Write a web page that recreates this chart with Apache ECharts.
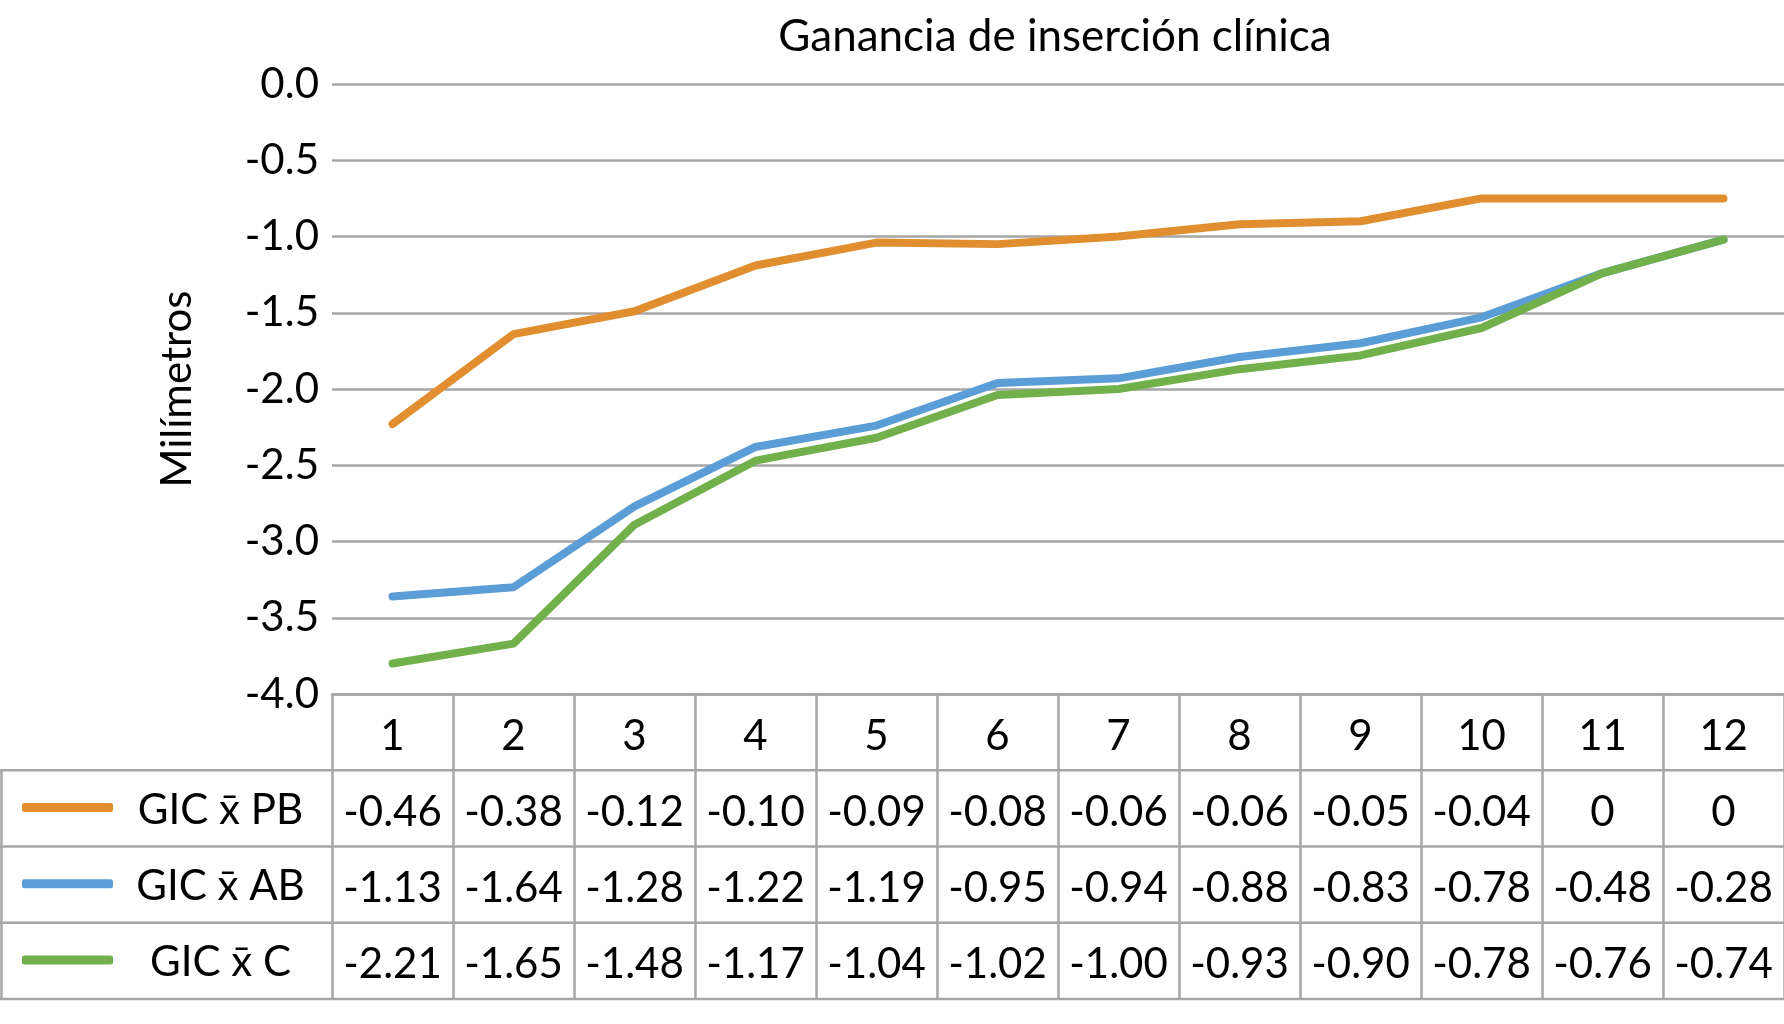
<!DOCTYPE html>
<html>
<head>
<meta charset="utf-8">
<script src="https://cdn.jsdelivr.net/npm/echarts@6/dist/echarts.min.js"></script>
<style>
html,body{margin:0;padding:0;background:#fff;}
#chart{width:1784px;height:1024px;}
</style>
</head>
<body>
<div id="chart"></div>
<script>
// ---- data ----
const categories = ['1','2','3','4','5','6','7','8','9','10','11','12'];
const seriesNames = ['GIC x\u0304 PB', 'GIC x\u0304 AB', 'GIC x\u0304 C'];
// values plotted by the lines
const linePB = [-2.23, -1.64, -1.49, -1.19, -1.04, -1.05, -1.00, -0.92, -0.90, -0.75, -0.75, -0.75];
const lineAB = [-3.36, -3.30, -2.77, -2.38, -2.24, -1.96, -1.93, -1.79, -1.70, -1.53, -1.24, -1.02];
const lineC  = [-3.80, -3.67, -2.89, -2.47, -2.32, -2.04, -2.00, -1.87, -1.78, -1.60, -1.24, -1.02];
// values shown in the data table
const tablePB = [-0.46, -0.38, -0.12, -0.10, -0.09, -0.08, -0.06, -0.06, -0.05, -0.04, 0, 0];
const tableAB = [-1.13, -1.64, -1.28, -1.22, -1.19, -0.95, -0.94, -0.88, -0.83, -0.78, -0.48, -0.28];
const tableC  = [-2.21, -1.65, -1.48, -1.17, -1.04, -1.02, -1.00, -0.93, -0.90, -0.78, -0.76, -0.74];
const yTicks = [0, -0.5, -1, -1.5, -2, -2.5, -3, -3.5, -4];

// ---- style / layout ----
const colors = ['#E08E2F', '#5B9DD6', '#72B04C'];
const FONT = 'Lato, "Open Sans", sans-serif';
const W = 1784, H = 1024;
const gridLeft = 332, gridTop = 84, gridBottomY = 694;
const rowH = (gridBottomY - gridTop) / 8;
const gray = '#A6A6A6';
const lineW = 2.5;

const chart = echarts.init(document.getElementById('chart'), null, {renderer: 'canvas'});
const fmtCell = v => (v === 0 ? '0' : v.toFixed(2));
const tableRows = [tablePB, tableAB, tableC];
const lineRows = [linePB, lineAB, lineC];

const xAxes = [{
  type: 'category', data: categories, gridIndex: 0, position: 'bottom', boundaryGap: true,
  axisLine: {show: true, onZero: false, lineStyle: {color: gray, width: lineW}},
  axisTick: {show: true, inside: false, length: rowH * 4, lineStyle: {color: gray, width: lineW}, interval: 0},
  axisLabel: {interval: 0, margin: rowH / 2 + 4, verticalAlign: 'middle', fontFamily: FONT, fontSize: 42, color: '#000'},
  splitLine: {show: false}
}];
tableRows.forEach((row, k) => {
  xAxes.push({
    type: 'category', data: categories, gridIndex: 0, position: 'bottom', offset: rowH * (k + 1), boundaryGap: true,
    axisLine: {show: false, onZero: false}, axisTick: {show: false}, splitLine: {show: false},
    axisLabel: {interval: 0, margin: rowH / 2 + 4, verticalAlign: 'middle', fontFamily: FONT, fontSize: 42, color: '#000',
      formatter: (v, i) => fmtCell(row[i])}
  });
});

const legends = seriesNames.map((n, k) => ({
  data: [n], orient: 'horizontal', left: 22, top: gridBottomY + rowH * (k + 1.5) - 25, padding: 0,
  itemWidth: 91, itemHeight: 9, icon: 'roundRect', selectedMode: false,
  formatter: name => '{t|' + name + '}',
  textStyle: {rich: {t: {width: 205, align: 'center', fontFamily: FONT, fontSize: 42, color: '#000', lineHeight: 50, padding: [6, 0, 0, 0]}}}
}));

const graphics = [];
for (let k = 1; k <= 4; k++) {
  const y = gridBottomY + rowH * k;
  graphics.push({type: 'line', silent: true, shape: {x1: 0, y1: y, x2: W, y2: y}, style: {stroke: gray, lineWidth: lineW}});
}
graphics.push({type: 'line', silent: true, shape: {x1: 1.5, y1: gridBottomY + rowH, x2: 1.5, y2: gridBottomY + rowH * 4}, style: {stroke: gray, lineWidth: lineW}});

const option = {
  backgroundColor: '#fff',
  animation: false,
  title: {
    text: 'Ganancia de inserción clínica', left: 1050, top: 10, textAlign: 'center',
    textStyle: {fontFamily: FONT, fontSize: 44, fontWeight: 'normal', color: '#000'}
  },
  legend: legends,
  grid: {left: gridLeft, top: gridTop, right: 0, height: gridBottomY - gridTop, containLabel: false},
  xAxis: xAxes,
  yAxis: {
    type: 'value', min: -4, max: 0, interval: 0.5,
    name: 'Milímetros', nameLocation: 'middle', nameRotate: 90, nameGap: 134,
    nameTextStyle: {fontFamily: FONT, fontSize: 42, color: '#000'},
    axisLine: {show: false}, axisTick: {show: false},
    axisLabel: {margin: 13, fontFamily: FONT, fontSize: 42, color: '#000', formatter: v => v.toFixed(1)},
    splitLine: {show: true, lineStyle: {color: gray, width: lineW}}
  },
  graphic: graphics,
  series: lineRows.map((d, k) => ({
    name: seriesNames[k], type: 'line', xAxisIndex: 0, data: d,
    symbol: 'none', smooth: false, z: 3 + k,
    itemStyle: {color: colors[k]},
    lineStyle: {color: colors[k], width: 8, cap: 'round', join: 'round'}
  }))
};
chart.setOption(option);
</script>
</body>
</html>
